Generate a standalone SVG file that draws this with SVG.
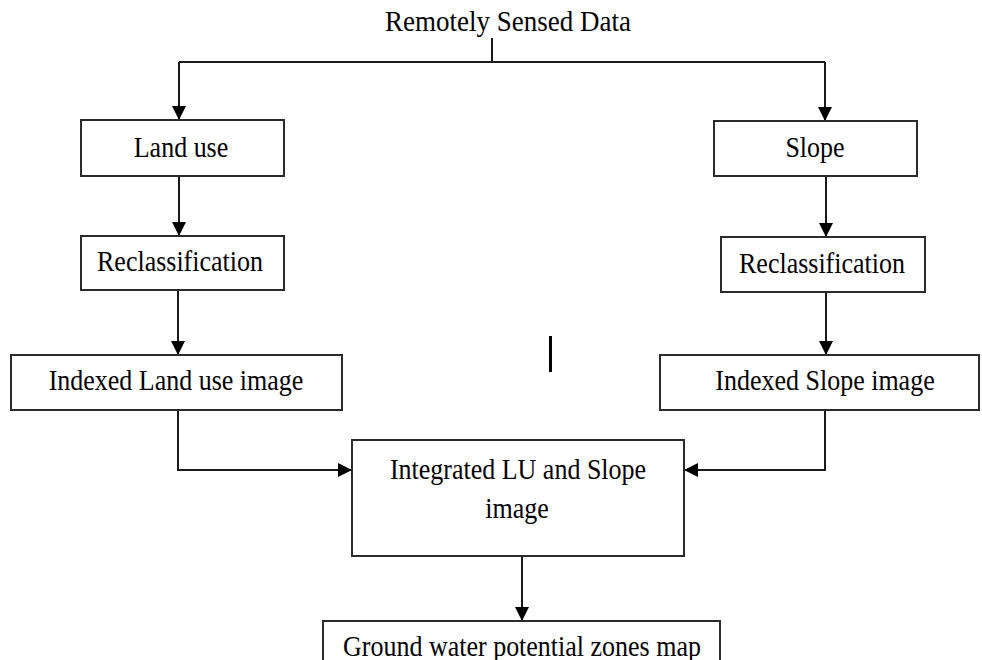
<svg xmlns="http://www.w3.org/2000/svg" width="982" height="660" viewBox="0 0 982 660">
  <style>
    .box { fill: #ffffff; stroke: #2b2b2b; stroke-width: 2; }
    .wire { fill: none; stroke: #1a1a1a; stroke-width: 2; }
    .lbl { font-family: "Liberation Serif", "Times New Roman", serif; font-size: 26px; fill: #000; text-anchor: middle; }
  </style>
  <defs>
    <marker id="arrow" markerUnits="userSpaceOnUse" markerWidth="14" markerHeight="14" viewBox="0 0 14 14" refX="14" refY="7" orient="auto">
      <path d="M0,0 L14,7 L0,14 z" fill="#000"/>
    </marker>
  </defs>

  <rect width="982" height="660" fill="#ffffff"/>

  <g id="connectors">
    <path class="wire" d="M492,38 V62"/>
    <path class="wire" d="M179,62 H825"/>
    <path class="wire" d="M179,62 V120" marker-end="url(#arrow)"/>
    <path class="wire" d="M825,62 V121" marker-end="url(#arrow)"/>
    <path class="wire" d="M179,176 V236" marker-end="url(#arrow)"/>
    <path class="wire" d="M826,176 V237" marker-end="url(#arrow)"/>
    <path class="wire" d="M178,290 V355" marker-end="url(#arrow)"/>
    <path class="wire" d="M826,292 V355" marker-end="url(#arrow)"/>
    <path class="wire" d="M178,410 V470 H352" marker-end="url(#arrow)"/>
    <path class="wire" d="M825,410 V470 H684" marker-end="url(#arrow)"/>
    <path class="wire" d="M522,556 V621" marker-end="url(#arrow)"/>
    <path d="M550.5,336 V372" stroke="#000" stroke-width="3"/>
  </g>

  <g id="source">
    <text class="lbl" style="font-size:27px" transform="translate(508,31) scale(1,1.12)">Remotely Sensed Data</text>
  </g>

  <g id="land-use">
    <rect class="box" x="81" y="120" width="203" height="56"/>
    <text class="lbl" transform="translate(181,157) scale(1,1.15)">Land use</text>
  </g>

  <g id="land-use-reclass">
    <rect class="box" x="81" y="236" width="203" height="54"/>
    <text class="lbl" transform="translate(180,271) scale(1,1.15)">Reclassification</text>
  </g>

  <g id="land-use-indexed">
    <rect class="box" x="11" y="355" width="331" height="55"/>
    <text class="lbl" transform="translate(176,390) scale(1,1.15)">Indexed Land use image</text>
  </g>

  <g id="slope">
    <rect class="box" x="714" y="121" width="203" height="55"/>
    <text class="lbl" transform="translate(815,157) scale(1,1.15)">Slope</text>
  </g>

  <g id="slope-reclass">
    <rect class="box" x="721" y="237" width="204" height="55"/>
    <text class="lbl" transform="translate(822,273) scale(1,1.15)">Reclassification</text>
  </g>

  <g id="slope-indexed">
    <rect class="box" x="660" y="355" width="319" height="55"/>
    <text class="lbl" transform="translate(825,390) scale(1,1.15)">Indexed Slope image</text>
  </g>

  <g id="integrated">
    <rect class="box" x="352" y="440" width="332" height="116"/>
    <text class="lbl" transform="translate(518,479) scale(1,1.15)">Integrated LU and Slope</text>
    <text class="lbl" transform="translate(517,518) scale(1,1.15)">image</text>
  </g>

  <g id="groundwater">
    <rect class="box" x="323" y="621" width="397" height="60"/>
    <text class="lbl" transform="translate(522,656) scale(1,1.15)">Ground water potential zones map</text>
  </g>
</svg>
